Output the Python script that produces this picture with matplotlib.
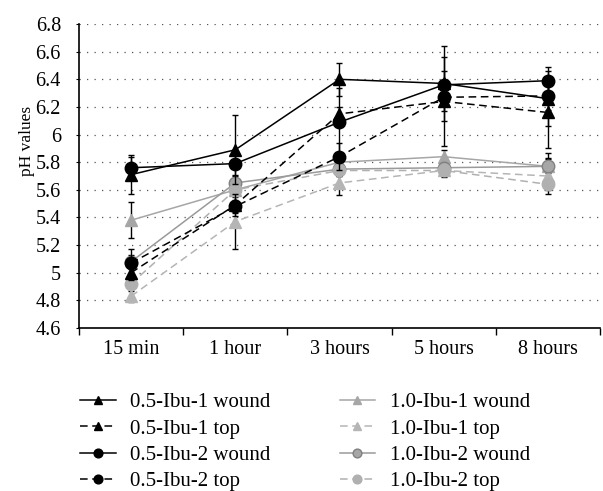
import matplotlib
matplotlib.use('Agg')
import matplotlib.pyplot as plt

times = ['15 min', '1 hour', '3 hours', '5 hours', '8 hours']

labels = ['0.5-Ibu-1 wound', '0.5-Ibu-1 top', '0.5-Ibu-2 wound', '0.5-Ibu-2 top',
          '1.0-Ibu-1 wound', '1.0-Ibu-1 top', '1.0-Ibu-2 wound', '1.0-Ibu-2 top']

ibu05_1_wound = [5.71, 5.89, 6.40, 6.37, 6.26]
ibu05_1_top = [5.00, 5.49, 6.15, 6.24, 6.16]
ibu05_2_wound = [5.76, 5.79, 6.09, 6.36, 6.39]
ibu05_2_top = [5.07, 5.48, 5.84, 6.27, 6.28]
ibu10_1_wound = [5.38, 5.60, 5.80, 5.84, 5.77]
ibu10_1_top = [4.83, 5.37, 5.65, 5.74, 5.70]
ibu10_2_wound = [5.08, 5.65, 5.75, 5.76, 5.77]
ibu10_2_top = [4.92, 5.60, 5.74, 5.74, 5.64]

err05_1_wound = [0.14, 0.25, 0.12, 0.27, 0.20]
err05_1_top = [0.05, 0.08, 0.05, 0.32, 0.26]
err05_2_wound = [0.08, 0.08, 0.25, 0.10, 0.10]
err05_2_top = [0.10, 0.05, 0.10, 0.10, 0.10]
err10_1_wound = [0.13, 0.05, 0.05, 0.05, 0.10]
err10_1_top = [0.04, 0.20, 0.09, 0.05, 0.13]
err10_2_wound = [0.05, 0.05, 0.05, 0.05, 0.05]
err10_2_top = [0.04, 0.04, 0.04, 0.04, 0.04]

values = [ibu05_1_wound, ibu05_1_top, ibu05_2_wound, ibu05_2_top,
          ibu10_1_wound, ibu10_1_top, ibu10_2_wound, ibu10_2_top]
errors = [err05_1_wound, err05_1_top, err05_2_wound, err05_2_top,
          err10_1_wound, err10_1_top, err10_2_wound, err10_2_top]

dash = (0, (5, 3))
styles = [
    dict(color='black', ls='-', marker='^', ms=8, mfc='black', mec='black'),
    dict(color='black', ls=dash, marker='^', ms=8, mfc='black', mec='black'),
    dict(color='black', ls='-', marker='o', ms=9, mfc='black', mec='black'),
    dict(color='black', ls=dash, marker='o', ms=9, mfc='black', mec='black'),
    dict(color='#a6a6a6', ls='-', marker='^', ms=8, mfc='#a6a6a6', mec='#a6a6a6'),
    dict(color='#b5b5b5', ls=dash, marker='^', ms=8, mfc='#b5b5b5', mec='#b5b5b5'),
    dict(color='#9a9a9a', ls='-', marker='o', ms=9, mfc='#a6a6a6', mec='#808080'),
    dict(color='#b0b0b0', ls=dash, marker='o', ms=9, mfc='#b0b0b0', mec='#b0b0b0'),
]

plt.rcParams['font.family'] = ['Liberation Serif', 'DejaVu Serif']

fig = plt.figure(figsize=(6.03, 4.91), dpi=100)
ax = fig.add_axes([0.131, 0.332, 0.864, 0.619])

x = list(range(len(times)))
order = [4, 5, 6, 7, 0, 1, 2, 3]
handles = {}
for i in order:
    st = styles[i]
    z = 3 if i < 4 else 2
    ax.errorbar(x, values[i], yerr=errors[i], fmt='none', ecolor='black',
                elinewidth=1.0, capsize=2.5, capthick=1.0, zorder=z)
    h, = ax.plot(x, values[i], color=st['color'], linestyle=st['ls'], lw=1.1,
                 marker=st['marker'], markersize=st['ms'], markerfacecolor=st['mfc'],
                 markeredgecolor=st['mec'], label=labels[i], zorder=z + 1)
    handles[i] = h

ax.set_xlim(-0.5, 4.5)
ax.set_ylim(4.6, 6.8)
ax.set_yticks([4.6 + 0.2 * k for k in range(12)])
ax.set_yticklabels(['%g' % round(4.6 + 0.2 * k, 1) for k in range(12)])
ax.set_xticks(x)
ax.set_xticklabels(times)
ax.set_xticks([k - 0.5 for k in range(6)], minor=True)
ax.tick_params(axis='x', which='major', length=0, pad=9, labelsize=14.5)
ax.tick_params(axis='x', which='minor', length=5, width=1, direction='out')
ax.tick_params(axis='y', length=2, width=0.8, pad=11, labelsize=14.5)
ax.set_ylabel('pH values', fontsize=12.5)
ax.yaxis.set_label_coords(-0.085, 0.615)

ax.grid(axis='y', linestyle=(0, (1, 5)), color='#555555', lw=0.9)
ax.set_axisbelow(True)
for s in ['top', 'right']:
    ax.spines[s].set_visible(False)
for s in ['left', 'bottom']:
    ax.spines[s].set_linewidth(1.2)

fig.legend([handles[i] for i in range(8)], labels, loc='center', ncol=2,
           bbox_to_anchor=(0.506, 0.10), frameon=False, fontsize=15,
           handlelength=1.7, columnspacing=3.3, labelspacing=0.32,
           handletextpad=0.7, markerscale=0.7)

fig.savefig('out.png', dpi=100)
